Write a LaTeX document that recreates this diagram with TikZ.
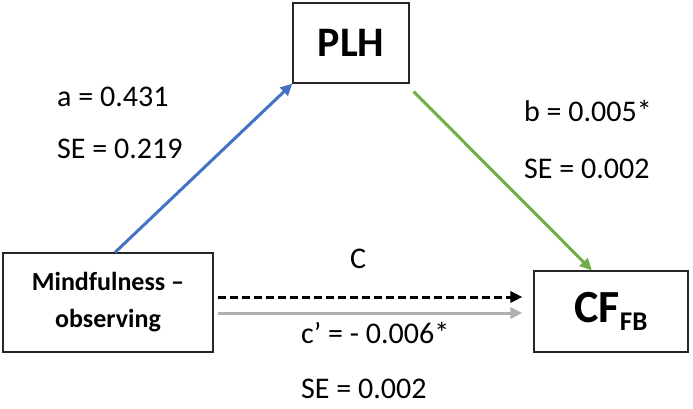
\documentclass[tikz,border=0pt]{standalone}
\usepackage{fontspec}
\setmainfont{Carlito}
\usetikzlibrary{arrows.meta, positioning, calc}
\definecolor{pathblue}{RGB}{68,114,196}
\definecolor{pathgreen}{RGB}{112,173,71}
\definecolor{pathgray}{RGB}{175,175,175}

\begin{document}
\begin{tikzpicture}[x=1pt, y=-1pt,
  var/.style={draw=black!85, line width=1.1pt, fill=white, inner sep=0pt, align=center},
  effect/.style={line width=3pt, -{Triangle[length=12pt,width=11pt]}},
  coef/.style={anchor=west, inner sep=0pt, text height=0.63em, text depth=0pt,
    font=\fontsize{30}{33}\selectfont}]
  \useasboundingbox (0,0) rectangle (693,408);

  % Variables
  \node[var, minimum width=116pt, minimum height=80pt,
    font=\fontsize{42}{44}\selectfont\bfseries] (plh) at (351,43) {PLH};
  \node[var, minimum width=210pt, minimum height=99pt,
    font=\fontsize{26}{37}\selectfont\bfseries] (mind) at (108,302.5) {Mindfulness –\\observing};
  \node[var, minimum width=154pt, minimum height=81pt,
    font=\fontsize{46}{48}\selectfont\bfseries] (cf) at (611,311.5)
    {CF\raisebox{-8pt}{\fontsize{27}{27}\selectfont FB}};

  % Paths
  \draw[effect, pathblue] ([xshift=7pt]mind.north) -- (plh.south west);
  \draw[effect, pathgreen] ([shift={(4pt,-8pt)}]plh.south east) -- ([xshift=-19pt]cf.north);
  \draw[effect, black, dash pattern=on 8pt off 4pt]
    ([shift={(4pt,5.5pt)}]mind.east) -- ([shift={(-11pt,14.5pt)}]cf.west);
  \draw[effect, pathgray] ([shift={(4pt,-10.5pt)}]mind.east) -- ([shift={(-11pt,-1.5pt)}]cf.west);

  % Coefficients
  \foreach \x/\y/\txt/\nm in {
    57 / 103 / {a = 0.431}     / a,
    57 / 155 / {SE = 0.219}    / ase,
    524/ 118 / {b = 0.005*}    / b,
    524/ 175 / {SE = 0.002}    / bse,
    301/ 340 / {c’ = - 0.006*} / cprime,
    301/ 395 / {SE = 0.002}    / cse
  }{
    \node[coef] (\nm) at (\x,\y) {\txt};
  }
  \node[coef, anchor=center] (ctot) at (358,265) {C};
\end{tikzpicture}
\end{document}
